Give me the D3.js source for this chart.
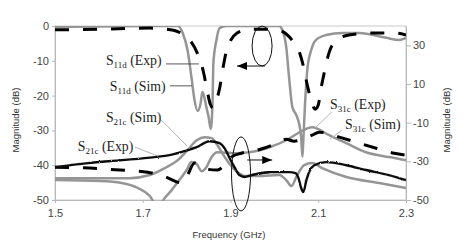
<!DOCTYPE html>
<html>
<head>
<meta charset="utf-8">
<script src="https://d3js.org/d3.v7.min.js"></script>
<style>
  body { margin: 0; background: #fff; }
  .axis text { font-family: "Liberation Sans", Arial, sans-serif; font-size: 11px; fill: #444; }
  .axis path, .axis line { stroke: #b8b8b8; }
  .title { font-family: "Liberation Sans", Arial, sans-serif; font-size: 9.5px; fill: #333; }
  .lbl { font-family: "Liberation Serif", "Times New Roman", serif; font-size: 13.8px; fill: #222; }
</style>
</head>
<body>
<div id="chart"></div>
<script>
// tick labels
var xTicks = [1.5, 1.7, 1.9, 2.1, 2.3];
var leftTicks = [-50, -40, -30, -20, -10, 0];
var rightTicks = [-50, -30, -10, 10, 30];

// S11d, against the left axis (dB)
var s11dSimF  = [1.5, 1.716, 1.78, 1.791, 1.802, 1.811, 1.818, 1.825, 1.832, 1.836, 1.839, 1.845, 1.85, 1.855, 1.859, 1.861, 1.868, 1.875, 1.891, 2.011, 2.018, 2.027, 2.034, 2.041, 2.05, 2.057, 2.061, 2.064, 2.066, 2.07, 2.075, 2.084, 2.095, 2.118, 2.155, 2.193, 2.255, 2.284, 2.3];
var s11dSimDb = [-0.3, 0, 0, -2, -6.9, -14.7, -21.3, -24.4, -22.1, -19, -19.8, -23.3, -26.1, -29.6, -22.1, -10.6, -4, -0.6, 0, 0, -1.1, -6, -15.5, -23.3, -25.6, -28.4, -31.9, -37.6, -32.8, -22.1, -12.6, -6.9, -4, -2.6, -2, -2, -3.4, -4, -3.4];

var s11dExpF  = [1.5, 1.602, 1.716, 1.77, 1.79, 1.81, 1.826, 1.838, 1.846, 1.854, 1.86, 1.866, 1.875, 1.883, 1.891, 1.9, 1.915, 1.94, 1.966, 2.005, 2.027, 2.045, 2.057, 2.066, 2.075, 2.084, 2.093, 2.1, 2.107, 2.114, 2.125, 2.143, 2.17, 2.232, 2.273, 2.3];
var s11dExpDb = [-1.1, -0.9, -0.6, -1.2, -2.3, -4.5, -8.3, -13, -18, -22.5, -23.5, -22, -18, -12, -7, -4.2, -2, -1, -0.9, -1.1, -2.3, -4.9, -7.5, -11.5, -17, -21.3, -23.9, -22.7, -17.5, -13.2, -7.5, -4, -2.6, -2, -2, -2.6];

// S21c / S31c, against the right axis (dB)
var s21cSimF  = [1.5, 1.602, 1.67, 1.716, 1.75, 1.78, 1.802, 1.823, 1.841, 1.857, 1.87, 1.884, 1.898, 1.916, 1.936, 1.97, 2.011, 2.027, 2.039, 2.05, 2.068, 2.086, 2.109, 2.164, 2.239, 2.3];
var s21cSimDb = [-38.7, -38.7, -38.7, -37.1, -33.5, -29.4, -24.2, -19.1, -17.5, -18.0, -21.6, -26.8, -31.4, -35.6, -37.6, -37.6, -37.1, -39.7, -42.8, -38.1, -32.0, -30.9, -33.5, -38.1, -41.2, -43.8];

var s31cSimF  = [1.5, 1.602, 1.652, 1.689, 1.716, 1.73, 1.739, 1.75, 1.764, 1.78, 1.8, 1.811, 1.823, 1.834, 1.845, 1.857, 1.87, 1.909, 1.943, 1.989, 2.027, 2.057, 2.086, 2.125, 2.164, 2.209, 2.261, 2.3];
var s31cSimDb = [-39.7, -40.2, -41.2, -43.8, -47.9, -52.1, -52.1, -49.0, -45.4, -40.7, -34.5, -30.4, -31.4, -35.1, -33.0, -27.8, -25.3, -25.8, -25.3, -22.7, -19.1, -15.0, -12.4, -16.5, -20.6, -25.3, -27.8, -29.4];

var s21cExpF  = [1.5, 1.575, 1.652, 1.727, 1.761, 1.795, 1.823, 1.852, 1.875, 1.889, 1.898, 1.909, 1.92, 1.932, 1.948, 1.989];
var s21cExpDb = [-33.0, -30.9, -29.4, -27.8, -26.8, -24.7, -22.7, -19.6, -20.6, -24.2, -28.4, -33.0, -37.1, -38.1, -37.1, -35.6];

var s31cExpF  = [1.948, 1.989, 2.034, 2.048, 2.055, 2.061, 2.066, 2.073, 2.08, 2.091, 2.118, 2.164, 2.209, 2.261, 2.3];
var s31cExpDb = [-37.1, -35.6, -35.6, -36.1, -38.7, -43.8, -45.9, -39.7, -35.1, -32.0, -30.4, -32.0, -34.5, -37.1, -39.7];

// dashed trace of the lower group
var lowDashF  = [1.5, 1.58, 1.648, 1.711, 1.752, 1.789, 1.802, 1.818, 1.83, 1.845, 1.87, 1.886, 1.902, 1.925, 1.961, 1.995, 2.027, 2.045, 2.064, 2.086, 2.102, 2.12, 2.148, 2.186, 2.232, 2.273, 2.3];
var lowDashDb = [-33.0, -33.5, -34.5, -35.6, -38.1, -41.2, -37.1, -30.9, -32.0, -34.0, -34.5, -32.0, -27.8, -25.8, -24.2, -21.6, -18.6, -19.6, -18.6, -16.5, -14.9, -15.5, -17.5, -20.1, -23.2, -25.8, -26.8];

var margin = {top: 26, right: 69, bottom: 49, left: 55},
    width = 475 - margin.left - margin.right,
    height = 249 - margin.top - margin.bottom;

var root = d3.select("#chart").append("svg")
    .attr("width", 475)
    .attr("height", 249);

var defs = root.append("defs");
defs.append("clipPath").attr("id", "plot")
  .append("rect").attr("width", width).attr("height", height + 1);

// measured traces look jittery
var f = defs.append("filter").attr("id", "rough")
    .attr("x", "-5%").attr("y", "-20%").attr("width", "110%").attr("height", "140%");
f.append("feTurbulence").attr("type", "fractalNoise").attr("baseFrequency", 0.9)
    .attr("numOctaves", 1).attr("seed", 4).attr("result", "n");
f.append("feDisplacementMap").attr("in", "SourceGraphic").attr("in2", "n")
    .attr("scale", 2.2).attr("xChannelSelector", "R").attr("yChannelSelector", "G");

defs.append("marker").attr("id", "head")
    .attr("viewBox", "0 0 10 8").attr("refX", 10).attr("refY", 4)
    .attr("markerWidth", 10).attr("markerHeight", 8)
    .attr("markerUnits", "userSpaceOnUse").attr("orient", "auto")
  .append("path").attr("d", "M0,0L10,4L0,8Z").attr("fill", "#000");

var svg = root.append("g")
    .attr("transform", "translate(" + margin.left + "," + margin.top + ")");

var x = d3.scaleLinear().domain([1.5, 2.3]).range([0, width]);
var yL = d3.scaleLinear().domain([-50, 0]).range([height, 0]);
var yR = d3.scaleLinear().domain([-50, 40]).range([height, 0]);

// light frame
svg.append("rect")
  .attr("width", width).attr("height", height)
  .attr("fill", "none").attr("stroke", "#cacaca");

// axes
svg.append("g").attr("class", "axis")
  .attr("transform", "translate(0," + height + ")")
  .call(d3.axisBottom(x).tickValues(xTicks).tickFormat(d3.format(".1f"))
        .tickSize(3).tickSizeOuter(0).tickPadding(6));

svg.append("g").attr("class", "axis")
  .call(d3.axisLeft(yL).tickValues(leftTicks).tickFormat(function(d) { return String(d); })
        .tickSize(3).tickSizeOuter(0).tickPadding(3));

svg.append("g").attr("class", "axis")
  .attr("transform", "translate(" + width + ",0)")
  .call(d3.axisRight(yR).tickValues(rightTicks).tickFormat(function(d) { return String(d); })
        .tickSize(5).tickSizeOuter(0).tickPadding(2));

root.append("text").attr("class", "title")
  .attr("transform", "translate(19,120) rotate(-90)")
  .attr("text-anchor", "middle").text("Magnitude (dB)");
root.append("text").attr("class", "title")
  .attr("transform", "translate(450,120) rotate(-90)")
  .attr("text-anchor", "middle").text("Magnitude (dB)");
root.append("text").attr("class", "title")
  .attr("x", 229).attr("y", 238)
  .attr("text-anchor", "middle").text("Frequency (GHz)");

// traces
function trace(fs, vs, yScale) {
  return d3.line()
    .x(function(d, i) { return x(fs[i]); })
    .y(function(d) { return yScale(d); })
    .curve(d3.curveMonotoneX)(vs);
}

var plot = svg.append("g").attr("clip-path", "url(#plot)");

var traces = [
  {f: s21cSimF, v: s21cSimDb, y: yR, kind: "sim"},
  {f: s31cSimF, v: s31cSimDb, y: yR, kind: "sim"},
  {f: s11dSimF, v: s11dSimDb, y: yL, kind: "sim"},
  {f: lowDashF, v: lowDashDb, y: yR, kind: "dash"},
  {f: s11dExpF, v: s11dExpDb, y: yL, kind: "dash"},
  {f: s21cExpF, v: s21cExpDb, y: yR, kind: "exp"},
  {f: s31cExpF, v: s31cExpDb, y: yR, kind: "exp"}
];

traces.forEach(function(t) {
  var p = plot.append("path")
    .attr("d", trace(t.f, t.v, t.y))
    .attr("fill", "none")
    .attr("stroke-linejoin", "round");
  if (t.kind == "sim") {
    p.attr("stroke", "#959595").attr("stroke-width", 2.5);
  } else if (t.kind == "dash") {
    p.attr("stroke", "#000").attr("stroke-width", 3).attr("stroke-dasharray", "14,14");
  } else {
    p.attr("stroke", "#111").attr("stroke-width", 2.4).attr("filter", "url(#rough)");
  }
});

// ellipses and arrows marking which axis each group uses (f in GHz, db on left axis)
var rings = [
  {f: 1.972, db: -5.75, rx: 10, ry: 20, from: [1.979, -11.5], to: [1.915, -11.5]},
  {f: 1.924, db: -42.5, rx: 9.5, ry: 37, from: [1.938, -38.5], to: [1.995, -38.5]}
];
rings.forEach(function(r) {
  svg.append("ellipse")
    .attr("cx", x(r.f)).attr("cy", yL(r.db))
    .attr("rx", r.rx).attr("ry", r.ry)
    .attr("fill", "none").attr("stroke", "#111").attr("stroke-width", 1);
  svg.append("line")
    .attr("x1", x(r.from[0])).attr("y1", yL(r.from[1]))
    .attr("x2", x(r.to[0])).attr("y2", yL(r.to[1]))
    .attr("stroke", "#111").attr("stroke-width", 1)
    .attr("marker-end", "url(#head)");
});

// trace labels with leader lines
var labels = [
  {sub: "11d", tail: "(Exp)", f: 1.616, db: -11.2, p: [1.753, -10.9, 1.828, -10.9], c: "#444"},
  {sub: "11d", tail: "(Sim)", f: 1.625, db: -18.7, p: [1.762, -17.2, 1.812, -17.2], c: "#444"},
  {sub: "21c", tail: "(Sim)", f: 1.616, db: -27.6, p: [1.742, -27.0, 1.801, -34.5], c: "#aaa"},
  {sub: "21c", tail: "(Exp)", f: 1.552, db: -35.9, p: [1.682, -34.8, 1.735, -37.4], c: "#aaa"},
  {sub: "31c", tail: "(Exp)", f: 2.127, db: -23.9, p: [2.131, -24.7, 2.093, -29.3], c: "#aaa"},
  {sub: "31c", tail: "(Sim)", f: 2.161, db: -29.6, p: [2.154, -29.9, 2.127, -32.5], c: "#aaa"}
];
labels.forEach(function(l) {
  svg.append("line")
    .attr("x1", x(l.p[0])).attr("y1", yL(l.p[1]))
    .attr("x2", x(l.p[2])).attr("y2", yL(l.p[3]))
    .attr("stroke", l.c).attr("stroke-width", 0.9);
  var t = svg.append("text").attr("class", "lbl")
    .attr("x", x(l.f)).attr("y", yL(l.db));
  t.append("tspan").text("S");
  t.append("tspan").attr("font-size", "9px").attr("dy", 3).text(l.sub);
  t.append("tspan").attr("dy", -3).text(" " + l.tail);
});
</script>
</body>
</html>
